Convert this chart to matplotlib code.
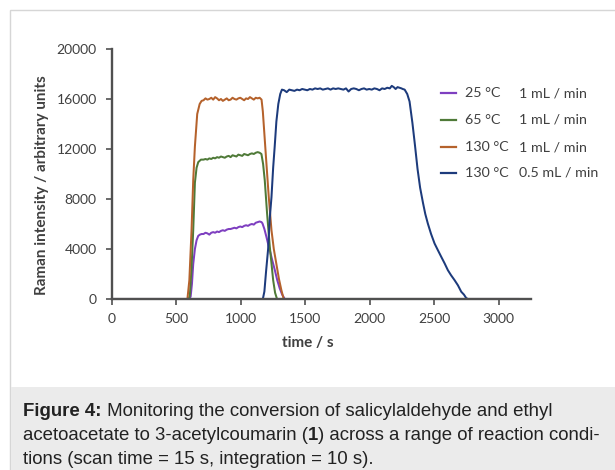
import matplotlib
matplotlib.use("Agg")
import matplotlib.pyplot as plt
from matplotlib.patches import Rectangle
from matplotlib.lines import Line2D

# ---------------- data ----------------
t_25 = [0, 600, 610, 620, 630, 643, 656, 669, 682, 695,
        710, 725, 740, 755, 770, 785, 800, 815, 830, 845, 860, 875, 890, 905, 920,
        935, 950, 965, 980, 995, 1010, 1025, 1040, 1055, 1070, 1085, 1100, 1115, 1130, 1145,
        1160, 1167, 1182, 1198, 1211, 1224, 1243, 1263, 1282, 1301, 1320, 1340, 3150]
v_25 = [0, 0, 200, 1200, 2800, 4000, 4700, 5050, 5150, 5200,
        5200, 5300, 5250, 5150, 5300, 5350, 5300, 5400, 5350, 5450, 5500, 5450, 5550, 5600, 5600,
        5650, 5700, 5650, 5750, 5800, 5750, 5850, 5900, 5850, 5950, 6000, 5950, 6100, 6150, 6200,
        6150, 6050, 5600, 4960, 4400, 3900, 3100, 2310, 1500, 850, 350, 0, 0]

t_65 = [0, 595, 604, 617, 630, 643, 656, 669, 690, 710,
        725, 740, 755, 770, 785, 800, 815, 830, 845, 860, 875, 890, 905, 920, 935,
        950, 965, 980, 995, 1010, 1025, 1040, 1055, 1070, 1085, 1100, 1115, 1130, 1145,
        1159, 1172, 1185, 1203, 1224, 1250, 1265, 1280, 3150]
v_65 = [0, 0, 300, 2500, 5500, 9300, 10500, 10950, 11150, 11150,
        11200, 11150, 11250, 11200, 11300, 11250, 11350, 11300, 11400, 11350, 11300, 11400, 11450, 11350, 11500,
        11450, 11400, 11550, 11500, 11450, 11600, 11550, 11500, 11600, 11650, 11600, 11700, 11750, 11700,
        11600, 10800, 9480, 6830, 4170, 1510, 500, 0, 0]

t_130 = [0, 585, 600, 617, 630, 643, 661, 680, 695,
         710, 725, 740, 755, 770, 785, 800, 815, 830, 845, 860, 875, 890, 905, 920, 935,
         950, 965, 980, 995, 1010, 1025, 1040, 1055, 1070, 1085, 1100, 1115, 1130, 1145, 1160,
         1170, 1180, 1198, 1216, 1237, 1255, 1275, 1295, 1314, 1332, 3150]
v_130 = [0, 0, 1500, 5500, 9500, 12200, 14800, 15600, 15850,
         15900, 16050, 15950, 16000, 16100, 15950, 16150, 16050, 15900, 16000, 15850, 15950, 16050, 15900, 15950, 16100,
         16000, 15950, 16050, 16100, 16000, 15900, 16050, 16000, 16150, 16050, 15950, 16100, 16050, 16100, 15950,
         15000, 13500, 10800, 8150, 5500, 4000, 2800, 1600, 700, 0, 0]

t_130s = [0, 1170, 1182, 1195, 1211, 1224, 1237, 1250, 1262, 1275, 1290, 1305, 1318,
          1335, 1355, 1375, 1395, 1415, 1435, 1455, 1475, 1495, 1515, 1535, 1555, 1575, 1595,
          1615, 1635, 1655, 1675, 1695, 1715, 1735, 1755, 1775, 1795, 1815, 1835, 1855, 1875,
          1895, 1915, 1935, 1955, 1975, 1995, 2015, 2035, 2055, 2075, 2095, 2115, 2135, 2155,
          2170, 2185, 2200, 2215, 2230, 2245, 2255,
          2270, 2290, 2308, 2330, 2350, 2370, 2390, 2412, 2430, 2450, 2475, 2502, 2528, 2554,
          2580, 2605, 2630, 2657, 2683, 2709, 2730, 2747, 2760, 3150]
v_130s = [0, 0, 600, 2200, 4000, 6500, 8150, 10500, 12200, 14200, 15600, 16400, 16750,
          16700, 16550, 16750, 16700, 16650, 16750, 16700, 16800, 16750, 16700, 16800, 16750, 16850, 16800,
          16850, 16750, 16800, 16850, 16750, 16850, 16800, 16850, 16800, 16750, 16850, 16600, 16800, 16850,
          16800, 16700, 16800, 16850, 16750, 16800, 16750, 16850, 16800, 16700, 16850, 16800, 16900, 16850,
          17050, 16950, 16800, 16950, 16900, 16850, 16800,
          16750, 16400, 15800, 14100, 12300, 10400, 8900, 7700, 6800, 6030, 5200, 4440, 3900, 3370,
          2850, 2310, 1900, 1510, 1100, 580, 350, 80, 0, 0]

temps = ["25 °C", "65 °C", "130 °C", "130 °C"]
flows = ["1 mL / min", "1 mL / min", "1 mL / min", "0.5 mL / min"]
colors = ["#7E3FC0", "#4F7A38", "#B5622C", "#1D3B7C"]

x_ticks = [0, 500, 1000, 1500, 2000, 2500, 3000]
y_ticks = [0, 4000, 8000, 12000, 16000, 20000]

caption_lines = [
    [("Figure 4:", "bold"), (" Monitoring the conversion of salicylaldehyde and ethyl", "normal")],
    [("acetoacetate to 3-acetylcoumarin (", "normal"), ("1", "bold"),
     (") across a range of reaction condi-", "normal")],
    [("tions (scan time = 15 s, integration = 10 s).", "normal")],
]

# ---------------- figure ----------------
W, H = 615, 470
fig = plt.figure(figsize=(W / 100, H / 100), dpi=100, facecolor="white")

# card frame and caption band
fig.patches.append(Rectangle((10 / W, 0), 1.0, (H - 10) / H, transform=fig.transFigure,
                             facecolor="white", edgecolor="#d6d6d6", lw=1.0, zorder=-20))
fig.patches.append(Rectangle((10.5 / W, 0), 1.0, (H - 387) / H, transform=fig.transFigure,
                             facecolor="#ebebeb", edgecolor="none", zorder=-19))

ax = fig.add_axes([112 / W, 1 - 299 / H, (531 - 112) / W, (299 - 49) / H])
ax.set_zorder(5)
ax.patch.set_alpha(0)

series_t = [t_25, t_65, t_130, t_130s]
series_v = [v_25, v_65, v_130, v_130s]
for tt, vv, c in zip(series_t, series_v, colors):
    ax.plot(tt, vv, color=c, lw=1.45, solid_joinstyle="round")

ax.set_xlim(0, 3250)
ax.set_ylim(0, 20000)
ax.set_xticks(x_ticks)
ax.set_yticks(y_ticks)
ax.set_xticklabels([str(v) for v in x_ticks])
ax.set_yticklabels([str(v) for v in y_ticks])

font = "Lato"
for s in ["top", "right"]:
    ax.spines[s].set_visible(False)
for s in ["left", "bottom"]:
    ax.spines[s].set_color("#505050")
    ax.spines[s].set_linewidth(1.7)
    ax.spines[s].set_zorder(4)
ax.tick_params(axis="both", direction="out", length=4, width=1.2, color="#505050",
               labelcolor="#404040", labelsize=10)
ax.tick_params(axis="y", pad=7)
ax.tick_params(axis="x", pad=6)
for lab in ax.get_xticklabels() + ax.get_yticklabels():
    lab.set_fontfamily(font)

ax.set_xlabel("time / s", fontfamily=font, fontweight="bold", fontsize=11, color="#404040")
ax.xaxis.set_label_coords((308 - 112) / (531 - 112), -(343 - 299) / (299 - 49))
ax.set_ylabel("Raman intensity / arbitrary units", fontfamily=font, fontweight="bold",
              fontsize=11, color="#404040")
ax.yaxis.set_label_coords(-(112 - 42) / (531 - 112), (299 - 185) / (299 - 49))
ax.yaxis.label.set_va("center")
ax.xaxis.label.set_va("center")

# legend (manual, two text columns)
rows_y = [93, 120, 147, 173]
for y, c, tp, fl in zip(rows_y, colors, temps, flows):
    fig.add_artist(Line2D([441 / W, 456 / W], [1 - y / H, 1 - y / H], transform=fig.transFigure,
                          color=c, lw=1.6))
    fig.text(465 / W, 1 - y / H, tp, fontfamily=font, fontsize=10.3, color="#404040",
             va="center", ha="left")
    fig.text(519 / W, 1 - y / H, fl, fontfamily=font, fontsize=10.3, color="#404040",
             va="center", ha="left")

# caption with mixed weights
cap_font = "Liberation Sans"
cap_size = 13.4
fig.canvas.draw()
renderer = fig.canvas.get_renderer()
line_y = [409, 433.5, 457.5]
for ly, pieces in zip(line_y, caption_lines):
    x = 23.0
    for txt, wt in pieces:
        t = fig.text(x / W, 1 - ly / H, txt, fontfamily=cap_font, fontsize=cap_size,
                     fontweight=wt, color="#222222", va="center_baseline", ha="left")
        bb = t.get_window_extent(renderer=renderer)
        x += bb.width

fig.savefig("out.png", dpi=100, facecolor="white")
